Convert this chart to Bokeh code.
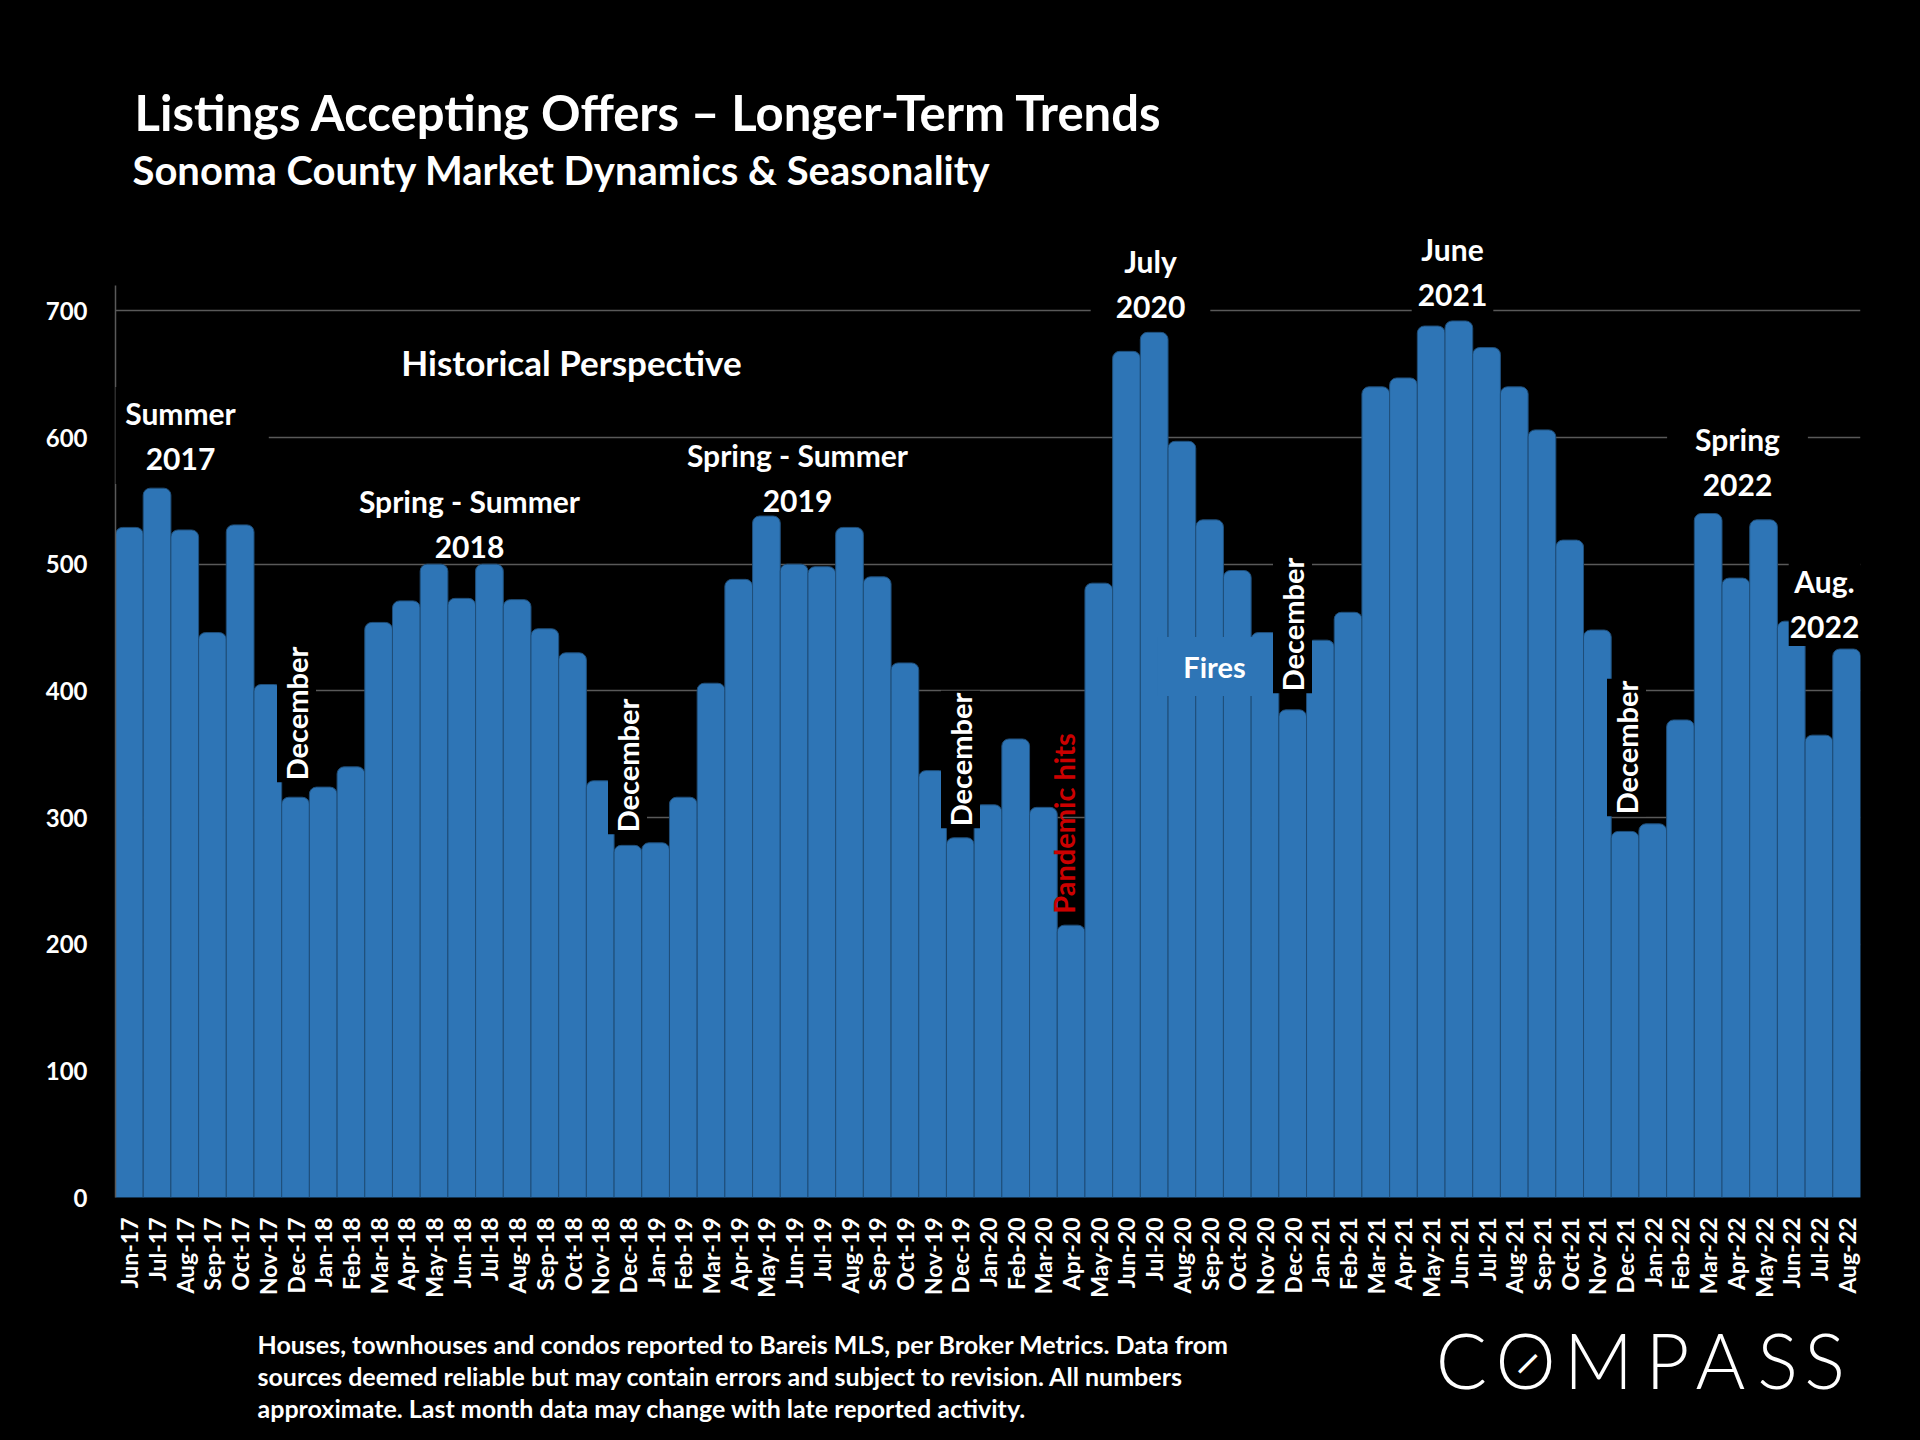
import math
from bokeh.plotting import figure
from bokeh.layouts import column
from bokeh.models import Label, Range1d, FactorRange, ColumnDataSource, FixedTicker
from bokeh.embed import file_html
from bokeh.resources import INLINE

# ---------------- data ----------------
months = [
    "Jun-17", "Jul-17", "Aug-17", "Sep-17", "Oct-17", "Nov-17", "Dec-17",
    "Jan-18", "Feb-18", "Mar-18", "Apr-18", "May-18", "Jun-18", "Jul-18",
    "Aug-18", "Sep-18", "Oct-18", "Nov-18", "Dec-18",
    "Jan-19", "Feb-19", "Mar-19", "Apr-19", "May-19", "Jun-19", "Jul-19",
    "Aug-19", "Sep-19", "Oct-19", "Nov-19", "Dec-19",
    "Jan-20", "Feb-20", "Mar-20", "Apr-20", "May-20", "Jun-20", "Jul-20",
    "Aug-20", "Sep-20", "Oct-20", "Nov-20", "Dec-20",
    "Jan-21", "Feb-21", "Mar-21", "Apr-21", "May-21", "Jun-21", "Jul-21",
    "Aug-21", "Sep-21", "Oct-21", "Nov-21", "Dec-21",
    "Jan-22", "Feb-22", "Mar-22", "Apr-22", "May-22", "Jun-22", "Jul-22",
    "Aug-22",
]
listings = [
    529, 560, 527, 446, 531, 405, 316,
    324, 340, 454, 471, 500, 473, 500,
    472, 449, 430, 329, 278,
    280, 316, 406, 488, 538, 500, 498,
    529, 490, 422, 337, 284,
    310, 362, 308, 215, 485, 668, 683,
    597, 535, 495, 446, 385,
    440, 462, 640, 647, 688, 692, 671,
    640, 606, 519, 448, 289,
    295, 377, 540, 489, 535, 455, 365,
    433,
]
y_ticks = [0, 100, 200, 300, 400, 500, 600, 700]

title = "Listings Accepting Offers \u2013 Longer-Term Trends"
subtitle = "Sonoma County Market Dynamics & Seasonality"
footnote = [
    "Houses, townhouses and condos reported to Bareis MLS, per Broker Metrics. Data from",
    "sources deemed reliable but may contain errors and subject to revision. All numbers",
    "approximate. Last month data may change with late reported activity.",
]

FONT = "Lato"
BAR = "#2E75B6"
GRID = "#595959"
W, H = 1920, 1440
LEFT, RIGHT = 115, 60            # identical side borders for every panel
PX0, PX1 = LEFT, W - RIGHT       # picture x of the frame edges
BLACK = {"background-color": "black"}


def blank(top, bottom):
    """A text-only panel whose data coordinates are picture pixels."""
    f = figure(width=W, height=bottom - top,
               x_range=Range1d(PX0, PX1), y_range=Range1d(bottom, top),
               x_axis_type=None, y_axis_type=None,
               output_backend="svg", toolbar_location=None,
               min_border_left=LEFT, min_border_right=RIGHT,
               min_border_top=0, min_border_bottom=0,
               background_fill_color="black", border_fill_color="black",
               outline_line_color=None)
    f.grid.visible = False
    f.styles = BLACK
    return f


def label(fig, text, x, y, size=30, color="white", angle=0.0, bg=None, pad=0,
          align="center", baseline="middle", font=FONT, style="bold"):
    fig.add_layout(Label(x=x, y=y, text=text,
                         text_font=font, text_font_size=f"{size}px",
                         text_font_style=style, text_color=color, angle=angle,
                         text_align=align, text_baseline=baseline,
                         background_fill_color=bg, padding=pad,
                         text_line_height=1.25))


# ---------------- header ----------------
HEAD_BOT = 200
head = blank(0, HEAD_BOT)
label(head, title, 134, 111.5, size=49, align="left")
label(head, subtitle, 132, 169, size=40, align="left")

# ---------------- main chart ----------------
Y_END = 765
TOP, BOTTOM = 28, 113
FRAME_H = 969
HM = TOP + FRAME_H + BOTTOM
MAIN_BOT = HEAD_BOT + HM
main = figure(width=W, height=HM,
              x_range=FactorRange(*months), y_range=Range1d(0, Y_END),
              output_backend="svg", toolbar_location=None,
              min_border_left=LEFT, min_border_right=RIGHT,
              min_border_top=TOP, min_border_bottom=BOTTOM,
              background_fill_color="black", border_fill_color="black",
              outline_line_color=None)
main.styles = BLACK

src = ColumnDataSource(dict(month=months, listings=listings))
main.vbar(x="month", top="listings", width=1.0, source=src,
          fill_color=BAR, line_color="#1F4E79", line_width=1,
          border_radius=(7, 7, 0, 0))

main.xgrid.grid_line_color = None
main.ygrid.ticker = FixedTicker(ticks=y_ticks)
main.ygrid.grid_line_color = GRID
main.ygrid.grid_line_width = 1.5

ya = main.yaxis[0]
ya.ticker = FixedTicker(ticks=y_ticks)
ya.bounds = (0, 720)
ya.axis_line_color = GRID
ya.axis_line_width = 1.5
ya.major_tick_line_color = None
ya.minor_tick_line_color = None
ya.major_tick_out = 0
ya.major_tick_in = 0
ya.major_label_standoff = 28
ya.major_label_text_color = "white"
ya.major_label_text_font = FONT
ya.major_label_text_font_style = "bold"
ya.major_label_text_font_size = "24px"

xa = main.xaxis[0]
xa.axis_line_color = None
xa.major_tick_line_color = None
xa.minor_tick_line_color = None
xa.major_tick_out = 0
xa.major_tick_in = 0
xa.major_label_standoff = 20
xa.major_label_orientation = math.pi / 2
xa.major_label_text_color = "white"
xa.major_label_text_font = FONT
xa.major_label_text_font_style = "bold"
xa.major_label_text_font_size = "23px"

# picture pixel -> data coordinate helpers for the main chart
FY0 = HEAD_BOT + TOP + FRAME_H
PX_PER_BAR = (PX1 - PX0) / len(months)
PX_PER_UNIT = FRAME_H / Y_END


def note(text, x, y, **kw):
    label(main, text, (x - PX0) / PX_PER_BAR, (FY0 - y) / PX_PER_UNIT, **kw)


note("Historical Perspective", 571, 361, size=35, bg="black", pad=(10, 6))
note("Summer\n2017", 180, 435, size=30, bg="black", pad=(33, 8))
note("Spring - Summer\n2018", 469, 523, size=30)
note("Spring - Summer\n2019", 797, 477, size=30)
note("July\n2020", 1150, 283, size=30, bg="black", pad=(25, 2))
note("June\n2021", 1452, 271, size=30, bg="black", pad=(6, 2))
note("Spring\n2022", 1737, 461, size=30, bg="black", pad=(28, 2))
note("Aug.\n2022", 1824, 603, size=30, bg="black", pad=(1, 2))
note("Fires", 1214, 666, size=29, bg=BAR, pad=(26, 12))
note("Pandemic hits", 1063, 823, size=29, color="#CC0000", angle=math.pi / 2)
for (xc, yc) in [(296, 713), (627, 765), (960, 759), (1292, 624), (1626, 747)]:
    note("December", xc, yc, size=29, angle=math.pi / 2, bg="black", pad=(2, 2))

# ---------------- footer ----------------
foot = blank(MAIN_BOT, H)
for i, line in enumerate(footnote):
    label(foot, line, 257, 1343 + 32 * i, size=25, align="left")

for ch, xc in zip("COMPASS", [1461, 1525, 1598, 1667, 1720, 1777, 1824]):
    label(foot, ch, xc, 1359, size=76, font="'Lato Light', Lato", style="normal")
label(foot, "\u2014", 1525, 1361, size=36, angle=math.pi / 4, style="bold")

page = column(head, main, foot, spacing=0)
page.styles = BLACK
open("out.html", "w").write(file_html(page, INLINE))
